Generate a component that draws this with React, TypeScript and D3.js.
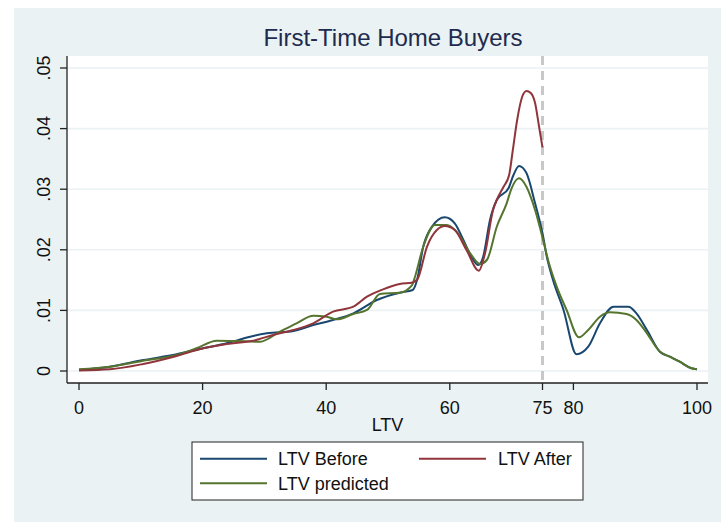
import React from "react";
import * as d3 from "d3";

const xTicks = [0, 20, 40, 60, 75, 80, 100];
const yTicks = [0, 0.01, 0.02, 0.03, 0.04, 0.05];
const yTickLabels = ["0", ".01", ".02", ".03", ".04", ".05"];
const cutoff = 75;

const beforeX = [0, 5, 10.4, 15.8, 20.1, 23.9, 27.7, 30.4, 34.7, 37.9, 41.1, 44.4, 48.2, 51.9, 54.0, 54.7, 55.7, 57.1, 59.2, 60.8, 62.2, 63.5, 64.6, 65.4, 66.5, 67.6, 69.5, 70.3, 71.2, 72.4, 73.8, 75.0, 75.7, 76.7, 78.4, 80.5, 82.4, 84.3, 86.5, 88.9, 90.2, 91.9, 94.0, 95.6, 97.2, 99.1, 100];
const beforeY = [0.00017, 0.00071, 0.0018, 0.00276, 0.00375, 0.00457, 0.00566, 0.00622, 0.0066, 0.00759, 0.00842, 0.00952, 0.01172, 0.01292, 0.01337, 0.015, 0.0205, 0.0238, 0.02536, 0.02437, 0.02162, 0.01886, 0.01749, 0.01886, 0.02492, 0.02822, 0.03015, 0.03234, 0.03383, 0.03267, 0.02767, 0.02272, 0.01886, 0.01502, 0.01007, 0.00276, 0.00401, 0.00787, 0.01061, 0.01061, 0.00952, 0.00677, 0.00318, 0.00236, 0.00153, 0.00045, 0.00028];

const afterX = [0, 5, 10.4, 15.8, 20.1, 23.9, 28.2, 31.4, 34.7, 37.9, 41.1, 44.4, 46.6, 49.2, 51.9, 54.0, 54.8, 56.3, 57.9, 59.2, 60.8, 62.7, 64.7, 65.7, 67.0, 67.6, 68.7, 69.6, 70.2, 70.9, 71.7, 72.4, 73.1, 73.8, 74.4, 75.0];
const afterY = [0.0001, 0.00028, 0.00116, 0.00248, 0.00375, 0.00446, 0.005, 0.00594, 0.00677, 0.00787, 0.00979, 0.01061, 0.01226, 0.01348, 0.01436, 0.0146, 0.0152, 0.0205, 0.02327, 0.02393, 0.02327, 0.01997, 0.01655, 0.01942, 0.02657, 0.02822, 0.03041, 0.03234, 0.03647, 0.04142, 0.04521, 0.0462, 0.04587, 0.04422, 0.0406, 0.03691];

const predX = [0, 5, 10.4, 15.8, 19.0, 22.3, 25.5, 29.3, 32.5, 35.2, 37.9, 40.1, 41.7, 44.4, 46.6, 48.7, 51.9, 53.9, 54.2, 55.7, 57.6, 59.5, 61.1, 63.3, 64.9, 66.0, 67.6, 69.2, 70.0, 71.2, 72.4, 73.8, 75.1, 75.9, 77.3, 78.9, 80.9, 82.4, 84.3, 85.9, 88.6, 90.2, 91.9, 94.0, 95.6, 97.2, 99.1, 100];
const predY = [0.00028, 0.00071, 0.0017, 0.00264, 0.00375, 0.005, 0.00495, 0.00483, 0.00649, 0.00787, 0.00913, 0.00896, 0.00853, 0.00941, 0.01007, 0.01271, 0.01292, 0.01419, 0.015, 0.0205, 0.02409, 0.02409, 0.02299, 0.01942, 0.01766, 0.01832, 0.02381, 0.02767, 0.03015, 0.0318, 0.03041, 0.02657, 0.02162, 0.01832, 0.01391, 0.01007, 0.00556, 0.00677, 0.00896, 0.00969, 0.00941, 0.00842, 0.00622, 0.00318, 0.00236, 0.00153, 0.00045, 0.00028];

const seriesNames = ["LTV Before", "LTV After", "LTV predicted"];
const seriesColors = ["#1a476f", "#90353b", "#55752f"];

const W = 721;
const H = 522;
const plot = { left: 67, right: 708, top: 56, bottom: 383 };
const FONT = "'Liberation Sans', Arial, sans-serif";

export default function App() {
  const x = d3.scaleLinear().domain([0, 100]).range([79, 697]);
  const y = d3.scaleLinear().domain([0, 0.05]).range([371, 68]);
  const line = d3
    .line<[number, number]>()
    .x((d) => x(d[0]))
    .y((d) => y(d[1]))
    .curve(d3.curveMonotoneX);

  const series = [
    beforeX.map((v, i) => [v, beforeY[i]] as [number, number]),
    afterX.map((v, i) => [v, afterY[i]] as [number, number]),
    predX.map((v, i) => [v, predY[i]] as [number, number]),
  ];
  const drawOrder = [0, 2, 1];

  return (
    <svg
      width={W}
      height={H}
      style={{ position: "absolute", left: 0, top: 0 }}
      fontFamily={FONT}
    >
      <rect x={0} y={0} width={W} height={H} fill="#ffffff" />
      <rect x={14} y={8} width={W - 14} height={H - 8} fill="#eaf2f3" />
      <rect
        x={plot.left}
        y={plot.top}
        width={plot.right - plot.left}
        height={plot.bottom - plot.top}
        fill="#ffffff"
      />
      {yTicks.map((t) => (
        <line
          key={"g" + t}
          x1={plot.left}
          x2={plot.right}
          y1={y(t)}
          y2={y(t)}
          stroke="#eaf2f3"
          strokeWidth={1.6}
        />
      ))}
      <line
        x1={x(cutoff)}
        x2={x(cutoff)}
        y1={plot.top}
        y2={plot.bottom}
        stroke="#c8c8c8"
        strokeWidth={3}
        strokeDasharray="9,6"
      />
      {drawOrder.map((i) => (
        <path
          key={i}
          d={line(series[i]) || ""}
          fill="none"
          stroke={seriesColors[i]}
          strokeWidth={2}
        />
      ))}
      {/* axes */}
      <line x1={plot.left} x2={plot.left} y1={plot.top} y2={plot.bottom} stroke="#222" strokeWidth={1.3} />
      <line x1={plot.left} x2={plot.right} y1={plot.bottom} y2={plot.bottom} stroke="#222" strokeWidth={1.3} />
      {yTicks.map((t, i) => (
        <g key={"y" + t}>
          <line x1={plot.left - 7} x2={plot.left} y1={y(t)} y2={y(t)} stroke="#222" strokeWidth={1.3} />
          <text
            transform={`translate(50,${y(t)}) rotate(-90)`}
            textAnchor="middle"
            fontSize={18}
            fill="#111"
          >
            {yTickLabels[i]}
          </text>
        </g>
      ))}
      {xTicks.map((t) => (
        <g key={"x" + t}>
          <line x1={x(t)} x2={x(t)} y1={plot.bottom} y2={plot.bottom + 7} stroke="#222" strokeWidth={1.3} />
          <text x={x(t)} y={414} textAnchor="middle" fontSize={18} fill="#111">
            {t}
          </text>
        </g>
      ))}
      <text x={(plot.left + plot.right) / 2} y={431} textAnchor="middle" fontSize={18} fill="#111">
        LTV
      </text>
      <text x={393} y={46} textAnchor="middle" fontSize={24} fill="#1e2b4f">
        First-Time Home Buyers
      </text>
      {/* legend */}
      <rect x={192} y={442} width={391} height={58} fill="#ffffff" stroke="#222" strokeWidth={1} />
      {[
        { i: 0, lx: 200, ly: 458.7, tx: 278 },
        { i: 1, lx: 419, ly: 458.7, tx: 498 },
        { i: 2, lx: 200, ly: 483.3, tx: 278 },
      ].map((e) => (
        <g key={"l" + e.i}>
          <line x1={e.lx} x2={e.lx + 67} y1={e.ly} y2={e.ly} stroke={seriesColors[e.i]} strokeWidth={2} />
          <text x={e.tx} y={e.ly + 6.5} fontSize={18} fill="#111">
            {seriesNames[e.i]}
          </text>
        </g>
      ))}
    </svg>
  );
}
